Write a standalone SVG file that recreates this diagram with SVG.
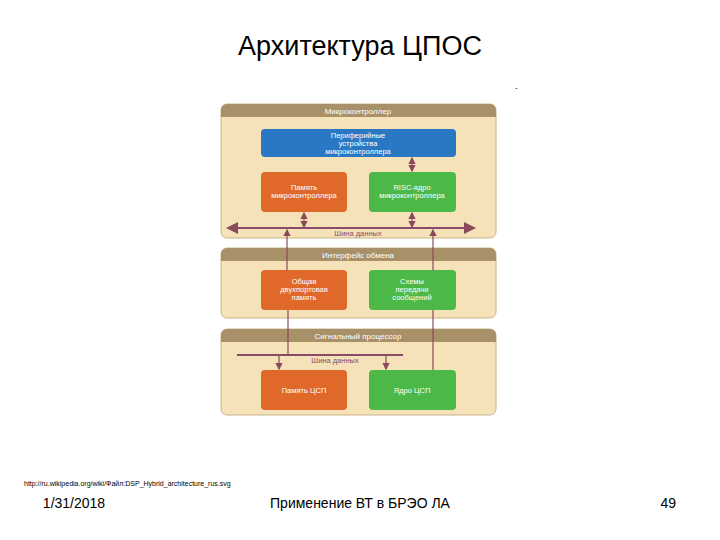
<svg xmlns="http://www.w3.org/2000/svg" width="720" height="540" viewBox="0 0 720 540">
<style>
text{font-family:"Liberation Sans",Arial,sans-serif}
.panel{fill:#f5e2b8;stroke:#c9b48c;stroke-width:1}
.hdr{fill:#a89068}
.ht{fill:#fff;font-size:8px;text-anchor:middle}
.bt{fill:#fff;font-size:7.5px;text-anchor:middle}
.or{fill:#e0692a}
.gr{fill:#4cb848}
.bl{fill:#2a78c4}
.ln{stroke:#8a4a5a;stroke-width:1.2;fill:none}
.bus{stroke:#8a4a6a;stroke-width:2;fill:none}
</style>
<defs>
<marker id="a" markerWidth="6" markerHeight="6" refX="5" refY="3" orient="auto"><path d="M0,0L6,3L0,6z" fill="#8a4a5a"/></marker>
<marker id="s" markerWidth="6" markerHeight="6" refX="1" refY="3" orient="auto"><path d="M6,0L0,3L6,6z" fill="#8a4a5a"/></marker>
</defs>
<rect width="720" height="540" fill="#fff"/>
<text x="360" y="55" font-size="27" text-anchor="middle">Архитектура ЦПОС</text>
<g id="p1">
<rect class="panel" x="221" y="104" width="275" height="134" rx="6"/>
<path class="hdr" d="M227,104h263a6,6 0 0 1 6,6v7h-275v-7a6,6 0 0 1 6,-6z"/>
<text class="ht" x="358" y="114">Микроконтроллер</text>
</g>
<g id="periph"><rect class="bl" x="261" y="129" width="195" height="28" rx="4"/>
<text class="bt" x="358" y="138">Периферийные</text><text class="bt" x="358" y="146">устройства</text><text class="bt" x="358" y="154">микроконтроллера</text></g>
<g id="mem1"><rect class="or" x="261" y="172" width="86" height="40" rx="4"/>
<text class="bt" x="304" y="190">Память</text><text class="bt" x="304" y="198">микроконтроллера</text></g>
<g id="risc"><rect class="gr" x="369" y="172" width="87" height="40" rx="4"/>
<text class="bt" x="412" y="190">RISC-ядро</text><text class="bt" x="412" y="198">микроконтроллера</text></g>
<text x="358" y="236" font-size="7.5" fill="#8a4a6a" text-anchor="middle">Шина данных</text>
<g id="p2">
<rect class="panel" x="221" y="248" width="275" height="70" rx="6"/>
<path class="hdr" d="M227,248h263a6,6 0 0 1 6,6v7h-275v-7a6,6 0 0 1 6,-6z"/>
<text class="ht" x="358" y="258">Интерфейс обмена</text>
</g>
<g id="dpm"><rect class="or" x="261" y="270" width="86" height="40" rx="4"/>
<text class="bt" x="304" y="284">Общая</text><text class="bt" x="304" y="292">двухпортовая</text><text class="bt" x="304" y="300">память</text></g>
<g id="msg"><rect class="gr" x="369" y="270" width="87" height="40" rx="4"/>
<text class="bt" x="412" y="284">Схемы</text><text class="bt" x="412" y="292">передачи</text><text class="bt" x="412" y="300">сообщений</text></g>
<g id="p3">
<rect class="panel" x="221" y="329" width="275" height="86" rx="6"/>
<path class="hdr" d="M227,329h263a6,6 0 0 1 6,6v7h-275v-7a6,6 0 0 1 6,-6z"/>
<text class="ht" x="358" y="339">Сигнальный процессор</text>
</g>
<text x="335" y="363" font-size="7.5" fill="#8a4a6a" text-anchor="middle">Шина данных</text>
<g id="memdsp"><rect class="or" x="261" y="370" width="86" height="40" rx="4"/>
<text class="bt" x="304" y="393">Память ЦСП</text></g>
<g id="coredsp"><rect class="gr" x="369" y="370" width="87" height="40" rx="4"/>
<text class="bt" x="412" y="393">Ядро ЦСП</text></g>
<g id="connectors">
<line class="bus" x1="228" y1="228" x2="474" y2="228" marker-start="url(#s)" marker-end="url(#a)"/>
<line class="bus" x1="237" y1="355" x2="403" y2="355"/>
<line class="ln" x1="412" y1="158" x2="412" y2="171" marker-start="url(#s)" marker-end="url(#a)"/>
<line class="ln" x1="304" y1="213" x2="304" y2="227" marker-start="url(#s)" marker-end="url(#a)"/>
<line class="ln" x1="412" y1="213" x2="412" y2="227" marker-start="url(#s)" marker-end="url(#a)"/>
<line class="ln" x1="287" y1="230" x2="287" y2="270" marker-start="url(#s)"/>
<line class="ln" x1="433" y1="230" x2="433" y2="270" marker-start="url(#s)"/>
<line class="ln" x1="288" y1="310" x2="288" y2="355"/>
<line class="ln" x1="433" y1="310" x2="433" y2="370"/>
<line class="ln" x1="279" y1="356" x2="279" y2="369" marker-end="url(#a)"/>
<line class="ln" x1="386" y1="356" x2="386" y2="369" marker-end="url(#a)"/>
</g>
<text x="515" y="90" font-size="8">-</text>
<text x="24" y="486" font-size="7">http://ru.wikipedia.org/wiki/Файл:DSP_Hybrid_architecture_rus.svg</text>
<text x="74" y="508" font-size="14" text-anchor="middle">1/31/2018</text>
<text x="360" y="508" font-size="14" text-anchor="middle">Применение ВТ в БРЭО ЛА</text>
<text x="676" y="508" font-size="14" text-anchor="end">49</text>
</svg>
